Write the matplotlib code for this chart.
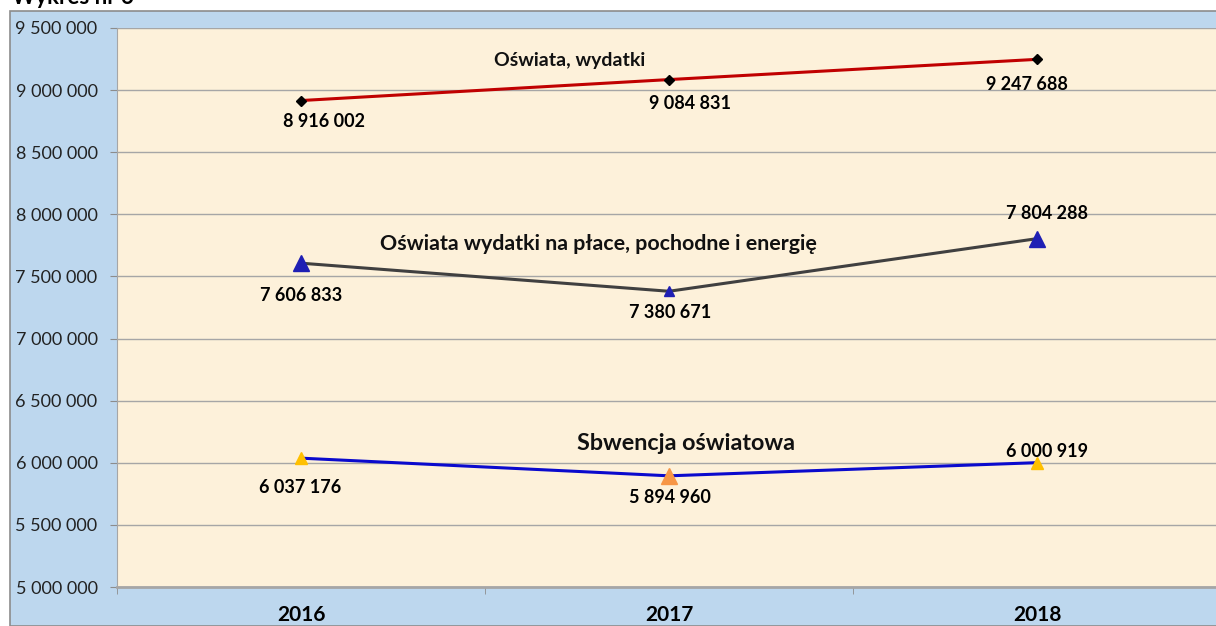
import matplotlib
matplotlib.use('Agg')
from matplotlib import pyplot as plt
from matplotlib.patches import Rectangle
from matplotlib.ticker import FuncFormatter, FixedLocator

plt.rcParams['font.family'] = ['Lato', 'DejaVu Sans']

# data
years = ['2016', '2017', '2018']
wydatki = [8916002, 9084831, 9247688]
place = [7606833, 7380671, 7804288]
subwencja = [6037176, 5894960, 6000919]
y_ticks = [5000000, 5500000, 6000000, 6500000, 7000000, 7500000,
           8000000, 8500000, 9000000, 9500000]


def spaced(v, pos=None):
    return f"{int(v):,}".replace(',', ' ')


fig = plt.figure(figsize=(12.16, 6.26), dpi=100)

# light blue chart frame
fig.patches.append(Rectangle((10 / 1216, 0), 1.0, (626 - 11) / 626,
                             transform=fig.transFigure, facecolor='#BDD7EE',
                             edgecolor='#8C8C8C', linewidth=1.2, zorder=-10))
fig.text(12 / 1216, 1 - 4 / 626, 'Wykres nr 6', fontsize=16,
         fontweight='bold', va='baseline', ha='left')

ax = fig.add_axes([117 / 1216, 39 / 626, 1104 / 1216, 559 / 626])
ax.set_facecolor('#FDF1DA')
x = list(range(len(years)))

# lines
ax.plot(x, wydatki, color='#C00000', linewidth=2.2, zorder=3)
ax.plot(x, wydatki, linestyle='none', marker='D', markersize=5,
        color='black', zorder=4)

ax.plot(x, place, color='#404040', linewidth=2.2, zorder=3)
for xi, yi, ms in zip(x, place, [11, 7, 11]):
    ax.plot(xi, yi, marker='^', markersize=ms, color='#1F1FB4',
            linestyle='none', zorder=4)

ax.plot(x, subwencja, color='#0A0ACD', linewidth=2.2, zorder=3)
for xi, yi, ms, c in zip(x, subwencja, [8, 11, 8],
                         ['#FFC000', '#F79646', '#FFC000']):
    ax.plot(xi, yi, marker='^', markersize=ms, color=c,
            linestyle='none', zorder=4)

# data labels (offsets in pixels)
lab = dict(textcoords='offset pixels', fontsize=13, fontweight='bold',
           ha='center', va='center', zorder=5)
for xi, yi, off in zip(x, wydatki, [(23, -21), (21, -24), (-10, -25)]):
    ax.annotate(spaced(yi), (xi, yi), xytext=off, **lab)
for xi, yi, off in zip(x, place, [(0, -32), (1, -21), (10, 25)]):
    ax.annotate(spaced(yi), (xi, yi), xytext=off, **lab)
for xi, yi, off in zip(x, subwencja, [(-1, -29), (1, -22), (10, 11)]):
    ax.annotate(spaced(yi), (xi, yi), xytext=off, **lab)

# series names
ax.text(0.73, 9235000, 'Oświata, wydatki', fontsize=14, fontweight='bold',
        ha='center', va='center', color='#111111')
ax.text(0.807, 7761000, 'Oświata wydatki na płace, pochodne i energię',
        fontsize=15.4, fontweight='bold', ha='center', va='center',
        color='#111111')
ax.text(1.046, 6159000, 'Sbwencja oświatowa', fontsize=16.8,
        fontweight='bold', ha='center', va='center', color='#111111')

ax.set_xlim(-0.5, 2.5)
ax.set_ylim(5000000, 9500000)
ax.yaxis.set_major_locator(FixedLocator(y_ticks))
ax.yaxis.set_major_formatter(FuncFormatter(spaced))
ax.grid(axis='y', color='#A6A6A6', linewidth=1, zorder=1)
ax.set_axisbelow(True)

ax.set_xticks(x)
ax.set_xticklabels(years, fontsize=15, fontweight='bold')
ax.set_xticks([-0.5, 0.5, 1.5, 2.5], minor=True)
ax.tick_params(axis='x', which='major', length=0, pad=13)
ax.tick_params(axis='x', which='minor', length=5, color='#8C8C8C',
               direction='out')
ax.tick_params(axis='y', length=5, color='#8C8C8C', pad=9, labelsize=13,
               labelcolor='#222222')

for s in ['top', 'right']:
    ax.spines[s].set_visible(False)
ax.spines['left'].set_color('#A6A6A6')
ax.spines['bottom'].set_color('#A6A6A6')
ax.spines['bottom'].set_linewidth(2)

fig.savefig('out.png', dpi=100)
